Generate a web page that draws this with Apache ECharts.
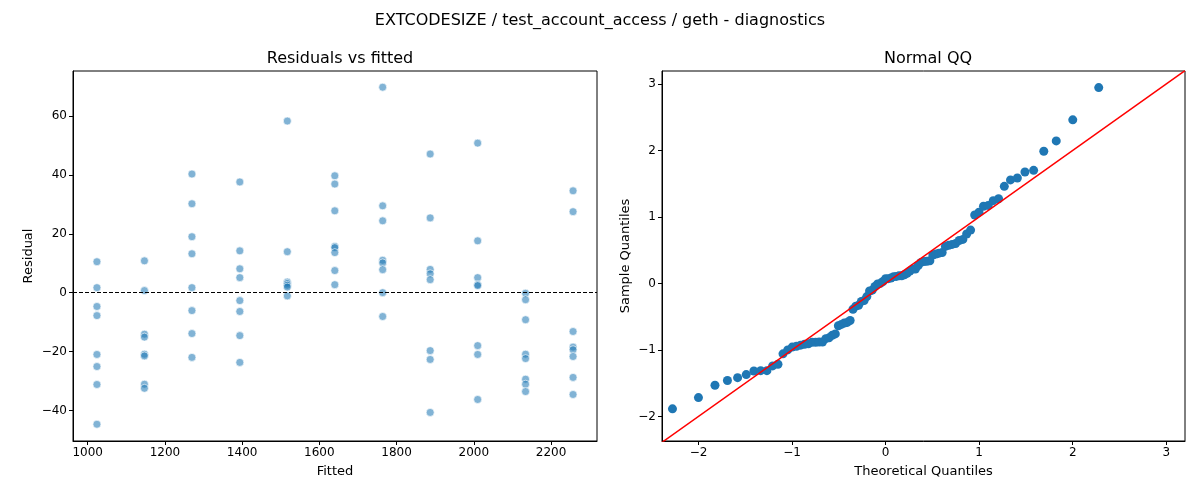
<!DOCTYPE html>
<html>
<head>
<meta charset="utf-8">
<script src="https://cdn.jsdelivr.net/npm/echarts@6/dist/echarts.min.js"></script>
<style>
  html, body { margin: 0; padding: 0; background: #fff; }
  #chart { width: 1200px; height: 500px; }
</style>
</head>
<body>
<div id="chart"></div>
<script>
// fitted values (one column of residuals per fitted level)
const fitted = [1024, 1147, 1270, 1394, 1517, 1640, 1764, 1887, 2010, 2134, 2257];
const residuals = [
  [10.5, 1.7, -4.7, -7.8, -21, -25.1, -31.2, -44.7],
  [10.8, 0.7, -14.1, -15.1, -20.9, -21.5, -31.1, -32.5],
  [40.3, 30.2, 19, 13.2, 1.7, -6.1, -13.9, -22],
  [37.6, 14.2, 8.1, 5.1, -2.7, -6.4, -14.6, -23.7],
  [58.3, 13.9, 3.6, 3.1, 2.5, 1.9, -1.1],
  [39.7, 36.9, 27.8, 15.7, 15.3, 13.6, 7.5, 2.7],
  [69.8, 29.5, 24.4, 11, 10.1, 7.8, 0, -8.1],
  [47.1, 25.4, 7.9, 6.4, 4.4, -19.7, -22.7, -40.7],
  [50.8, 17.6, 5.1, 2.7, 2.4, -18, -21, -36.3],
  [-0.2, -2.4, -9.2, -20.9, -22.4, -29.4, -31.1, -33.6],
  [34.6, 27.5, -13.2, -18.5, -19.4, -21.7, -28.8, -34.6]
];
const fittedTicks = [1000, 1200, 1400, 1600, 1800, 2000, 2200];
const residTicks = [-40, -20, 0, 20, 40, 60];
const qqTicks = [-2, -1, 0, 1, 2, 3];
const residScale = 23.7; // residual standard deviation

const scatterData = [];
fitted.forEach((f, i) => residuals[i].forEach(r => scatterData.push([f, r])));

// inverse normal CDF (Acklam)
function invNorm(p) {
  const a = [-39.6968302866538, 220.946098424521, -275.928510446969, 138.357751867269, -30.6647980661472, 2.50662827745924];
  const b = [-54.4760987982241, 161.585836858041, -155.698979859887, 66.8013118877197, -13.2806815528857];
  const c = [-0.00778489400243029, -0.322396458041136, -2.40075827716184, -2.54973253934373, 4.37466414146497, 2.93816398269878];
  const d = [0.00778469570904146, 0.32246712907004, 2.445134137143, 3.75440866190742];
  const pl = 0.02425;
  let q, r;
  if (p < pl) {
    q = Math.sqrt(-2 * Math.log(p));
    return (((((c[0]*q+c[1])*q+c[2])*q+c[3])*q+c[4])*q+c[5]) / ((((d[0]*q+d[1])*q+d[2])*q+d[3])*q+1);
  }
  if (p > 1 - pl) {
    q = Math.sqrt(-2 * Math.log(1 - p));
    return -(((((c[0]*q+c[1])*q+c[2])*q+c[3])*q+c[4])*q+c[5]) / ((((d[0]*q+d[1])*q+d[2])*q+d[3])*q+1);
  }
  q = p - 0.5; r = q * q;
  return (((((a[0]*r+a[1])*r+a[2])*r+a[3])*r+a[4])*r+a[5])*q / (((((b[0]*r+b[1])*r+b[2])*r+b[3])*r+b[4])*r+1);
}

const sorted = scatterData.map(d => d[1]).sort((x, y) => x - y);
const n = sorted.length;
const qqData = sorted.map((v, i) => [invNorm((i + 1) / (n + 1)), v / residScale]);
const qqRange = [-2.39, 3.2];

const font = 'DejaVu Sans';
const tickLabel = { color: '#000', fontSize: 12, fontFamily: font };
function axis(min, max, ticks, name, gap) {
  return {
    type: 'value', min: min, max: max,
    name: name, nameLocation: 'middle', nameGap: gap,
    nameTextStyle: { color: '#000', fontSize: 13, fontFamily: font },
    splitLine: { show: false },
    axisLine: { show: true, onZero: false, lineStyle: { color: '#000' } },
    axisTick: { show: true, length: 4, customValues: ticks, lineStyle: { color: '#000' } },
    axisLabel: Object.assign({ customValues: ticks, margin: 6, formatter: v => String(v).replace('-', '\u2212') }, tickLabel)
  };
}

const chart = echarts.init(document.getElementById('chart'));
chart.setOption({
  animation: false,
  title: [
    { text: 'EXTCODESIZE / test_account_access / geth - diagnostics', left: 'center', top: 8,
      textStyle: { fontSize: 16, fontWeight: 'normal', fontFamily: font, color: '#000' } },
    { text: 'Residuals vs fitted', left: 335, top: 46, textAlign: 'center',
      textStyle: { fontSize: 16, fontWeight: 'normal', fontFamily: font, color: '#000' } },
    { text: 'Normal QQ', left: 923, top: 46, textAlign: 'center',
      textStyle: { fontSize: 16, fontWeight: 'normal', fontFamily: font, color: '#000' } }
  ],
  grid: [
    { left: 73, top: 71, width: 524, height: 370, show: true, borderColor: '#000', borderWidth: 1 },
    { left: 662, top: 71, width: 523, height: 370, show: true, borderColor: '#000', borderWidth: 1 }
  ],
  xAxis: [
    Object.assign(axis(962, 2319, fittedTicks, 'Fitted', 24), { gridIndex: 0 }),
    Object.assign(axis(qqRange[0], qqRange[1], qqTicks, 'Theoretical Quantiles', 24), { gridIndex: 1 })
  ],
  yAxis: [
    Object.assign(axis(-50.4, 75.3, residTicks, 'Residual', 38), { gridIndex: 0 }),
    Object.assign(axis(-2.37, 3.195, qqTicks, 'Sample Quantiles', 30), { gridIndex: 1 })
  ],
  series: [
    {
      type: 'scatter', xAxisIndex: 0, yAxisIndex: 0, data: scatterData, symbolSize: 8,
      itemStyle: { color: 'rgba(31,119,180,0.7)', borderColor: '#fff', borderWidth: 0.8 },
      markLine: {
        silent: true, symbol: 'none', label: { show: false },
        lineStyle: { color: '#000', type: [4, 2], width: 1 },
        data: [{ yAxis: 0 }]
      }
    },
    {
      type: 'line', xAxisIndex: 1, yAxisIndex: 1, showSymbol: false,
      data: [[qqRange[0], qqRange[0]], [qqRange[1], qqRange[1]]],
      lineStyle: { color: '#ff0000', width: 1.5 }
    },
    {
      type: 'scatter', xAxisIndex: 1, yAxisIndex: 1, data: qqData, symbolSize: 9,
      itemStyle: { color: '#1f77b4', opacity: 1 }
    }
  ]
});
</script>
</body>
</html>
